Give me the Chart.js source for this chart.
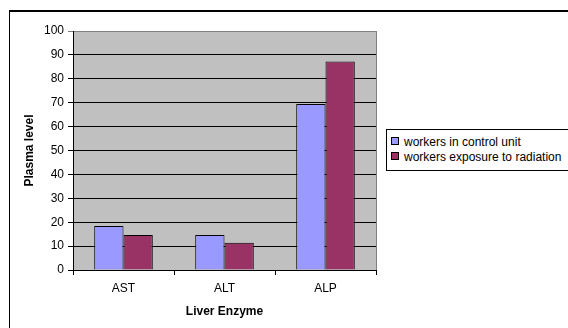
<!DOCTYPE html>
<html>
<head>
<meta charset="utf-8">
<script src="https://cdn.jsdelivr.net/npm/chart.js@4.4.0/dist/chart.umd.min.js"></script>
<style>
  html, body { margin: 0; padding: 0; background: #fff; overflow: hidden; }
  body { width: 568px; height: 328px; position: relative; font-family: Arial, "Liberation Sans", sans-serif; }
  .frame { position: absolute; left: 9px; top: 10px; width: 620px; height: 400px; border-left: 1px solid #000; border-top: 2px solid #000; }
  #wrap { position: absolute; left: 0; top: 0; width: 568px; height: 328px; }
  .legend { position: absolute; left: 386px; top: 129px; width: 186px; height: 40px; border: 1px solid #000; background: #fff; font-size: 12px; color: #000; }
  .legend-item { position: absolute; left: 4px; height: 14px; line-height: 14px; white-space: nowrap; }
  .legend-dot { display: inline-block; width: 6px; height: 6px; border: 1px solid #000; margin-right: 5px; vertical-align: 1px; }
</style>
</head>
<body>
<div class="frame"></div>
<div id="wrap"><canvas id="mainChart" width="568" height="328"></canvas></div>
<div class="legend" id="sourceLegend"></div>
<script>
const categories = ['AST', 'ALT', 'ALP'];
const seriesNames = ['workers in control unit', 'workers exposure to radiation'];
const controlValues = [18.4, 14.6, 69.5];
const radiationValues = [14.6, 11.4, 87.2];
const seriesColors = ['#9999FF', '#993366'];
const yTicks = [0, 10, 20, 30, 40, 50, 60, 70, 80, 90, 100];

const plotBg = {
  id: 'plotBg',
  beforeDraw(chart) {
    const { ctx, chartArea: a } = chart;
    ctx.save();
    ctx.fillStyle = '#C0C0C0';
    ctx.fillRect(a.left, a.top, a.right - a.left, a.bottom - a.top);
    ctx.restore();
  },
  afterDatasetsDraw(chart) {
    const { ctx, chartArea: a } = chart;
    ctx.save();
    ctx.strokeStyle = '#808080';
    ctx.lineWidth = 1;
    ctx.beginPath();
    ctx.moveTo(Math.round(a.right) + 0.5, a.top);
    ctx.lineTo(Math.round(a.right) + 0.5, a.bottom);
    ctx.stroke();
    ctx.restore();
  }
};

const ctxMain = document.getElementById('mainChart');
window.myMainChart = new Chart(ctxMain, {
  type: 'bar',
  data: {
    labels: categories,
    datasets: [{
      label: seriesNames[0],
      data: controlValues,
      backgroundColor: seriesColors[0],
      borderColor: '#000',
      borderWidth: 1,
    }, {
      label: seriesNames[1],
      data: radiationValues,
      backgroundColor: seriesColors[1],
      borderColor: '#000',
      borderWidth: 1,
    }],
  },
  options: {
    responsive: false,
    animation: false,
    devicePixelRatio: 1,
    categoryPercentage: 0.58,
    barPercentage: 1,
    layout: { padding: { left: 0, top: 31, right: 192, bottom: 0 } },
    plugins: {
      legend: { display: false },
      tooltip: { enabled: false },
    },
    scales: {
      x: {
        grid: { drawOnChartArea: false, drawTicks: true, tickLength: 5, color: '#000', offset: true },
        border: { color: '#000', width: 1 },
        ticks: { color: '#000', font: { family: 'Arial, "Liberation Sans"', size: 12 }, padding: 6 },
        title: {
          display: true,
          text: 'Liver Enzyme',
          color: '#000',
          font: { family: 'Arial, "Liberation Sans"', size: 12, weight: 'bold' },
          padding: { top: 0, bottom: 9 },
        },
        afterFit: (scale) => { scale.height = 58; },
      },
      y: {
        min: 0,
        max: 100,
        afterBuildTicks: (scale) => { scale.ticks = yTicks.map((v) => ({ value: v })); },
        grid: {
          color: (c) => (c.tick && c.tick.value === 100 ? '#808080' : '#000'),
          tickLength: 5,
        },
        border: { color: '#000', width: 1 },
        ticks: { color: '#000', font: { family: 'Arial, "Liberation Sans"', size: 12 }, padding: 4 },
        title: {
          display: true,
          text: 'Plasma level',
          color: '#000',
          font: { family: 'Arial, "Liberation Sans"', size: 12, weight: 'bold' },
          padding: { top: 22, bottom: 0 },
        },
        afterFit: (scale) => { scale.width = 73; },
      },
    },
  },
  plugins: [plotBg],
});

const sourceLegend = document.getElementById('sourceLegend');
sourceLegend.innerHTML = seriesNames.map((name, i) =>
  `<div class="legend-item" style="top:${5 + i * 15}px"><span class="legend-dot" style="background:${seriesColors[i]}"></span><span>${name}</span></div>`
).join('');
</script>
</body>
</html>
